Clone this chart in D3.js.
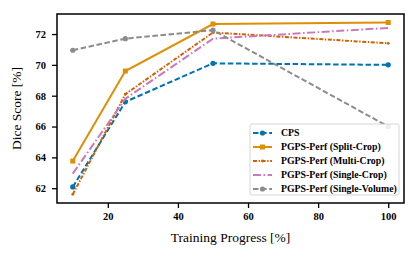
<!DOCTYPE html>
<html>
<head>
<meta charset="utf-8">
<script src="https://cdn.jsdelivr.net/npm/d3@7"></script>
<style>
  body { margin: 0; background: #fff; }
  svg { display: block; }
  text { font-family: "Liberation Serif", "DejaVu Serif", serif; }
</style>
</head>
<body>
<div id="chart"></div>
<script>
// training progress (x) and dice scores per method
const progress = [10, 25, 50, 100];
const cps = [62.08, 67.6, 70.1, 70.0];
const splitCrop = [63.76, 69.6, 72.65, 72.75];
const multiCrop = [61.6, 68.1, 72.1, 71.4];
const singleCrop = [62.95, 67.8, 71.7, 72.4];
const singleVolume = [70.95, 71.7, 72.25, 66.0];
const xTicks = [20, 40, 60, 80, 100];
const yTicks = [62, 64, 66, 68, 70, 72];

const series = [
    { name: "CPS", values: cps, color: "#0173b2", dash: "5.5,2.6", marker: "circle", size: 2.6 },
    { name: "PGPS-Perf (Split-Crop)", values: splitCrop, color: "#de8f05", dash: null, marker: "square", size: 5 },
    { name: "PGPS-Perf (Multi-Crop)", values: multiCrop, color: "#d55e00", dash: "4,1.6,1.4,1.6", marker: "circle", size: 1.4 },
    { name: "PGPS-Perf (Single-Crop)", values: singleCrop, color: "#cc78bc", dash: "8,2.5,1.6,2.5", marker: null, size: 0 },
    { name: "PGPS-Perf (Single-Volume)", values: singleVolume, color: "#8c8c8c", dash: "5.5,2.6", marker: "circle", size: 2.6 }
];

const W = 419, H = 259;
const margin = { top: 14, right: 15, bottom: 56, left: 57 };
const width = W - margin.left - margin.right;
const height = H - margin.top - margin.bottom;

const svg = d3.select("#chart").append("svg")
    .attr("width", W)
    .attr("height", H);

const g = svg.append("g")
    .attr("transform", `translate(${margin.left},${margin.top})`);

const x = d3.scaleLinear().domain([5.5, 104.5]).range([0, width]);
const y = d3.scaleLinear().domain([61.04, 73.3]).range([height, 0]);

// axes
const xAxis = g.append("g")
    .attr("transform", `translate(0,${height})`)
    .call(d3.axisBottom(x).tickValues(xTicks).tickSize(5).tickPadding(5));
const yAxis = g.append("g")
    .call(d3.axisLeft(y).tickValues(yTicks).tickSize(5).tickPadding(6));

[xAxis, yAxis].forEach(a => {
    a.select(".domain").remove();
    a.selectAll(".tick line").attr("stroke", "#000").attr("stroke-width", 1.3);
    a.selectAll(".tick text")
        .style("font-size", "10.5px")
        .style("font-weight", "bold")
        .attr("fill", "#000");
});

// frame
g.append("rect")
    .attr("width", width)
    .attr("height", height)
    .attr("fill", "none")
    .attr("stroke", "#000")
    .attr("stroke-width", 1.5);

// lines
const line = d3.line()
    .x((d, i) => x(progress[i]))
    .y(d => y(d));

function drawMarker(sel, s, cx, cy) {
    if (s.marker === "circle") {
        sel.append("circle")
            .attr("cx", cx).attr("cy", cy).attr("r", s.size)
            .attr("fill", s.color);
    } else if (s.marker === "square") {
        sel.append("rect")
            .attr("x", cx - s.size / 2).attr("y", cy - s.size / 2)
            .attr("width", s.size).attr("height", s.size)
            .attr("fill", s.color);
    }
}

series.forEach(s => {
    const sg = g.append("g");
    sg.append("path")
        .datum(s.values)
        .attr("d", line)
        .attr("fill", "none")
        .attr("stroke", s.color)
        .attr("stroke-width", 2)
        .attr("stroke-dasharray", s.dash);
    s.values.forEach((v, i) => drawMarker(sg, s, x(progress[i]), y(v)));
});

// legend
const legend = g.append("g")
    .attr("transform", `translate(${width - 154},${height - 79})`);

legend.append("rect")
    .attr("width", 149)
    .attr("height", 71)
    .attr("rx", 2)
    .attr("fill", "#fff")
    .attr("fill-opacity", 0.85)
    .attr("stroke", "#ccc")
    .attr("stroke-width", 0.8);

series.forEach((s, i) => {
    const ly = 9 + i * 14;
    const row = legend.append("g");
    row.append("line")
        .attr("x1", 3).attr("x2", 22)
        .attr("y1", ly).attr("y2", ly)
        .attr("stroke", s.color)
        .attr("stroke-width", 2)
        .attr("stroke-dasharray", s.dash);
    drawMarker(row, s, 12.5, ly);
    row.append("text")
        .attr("x", 31)
        .attr("y", ly)
        .attr("dy", "0.35em")
        .style("font-size", "9.8px")
        .style("font-weight", "bold")
        .text(s.name);
});

// axis titles
svg.append("text")
    .attr("x", margin.left + width / 2)
    .attr("y", 242)
    .attr("text-anchor", "middle")
    .style("font-size", "13.5px")
    .text("Training Progress [%]");

svg.append("text")
    .attr("transform", `translate(21,${margin.top + height / 2}) rotate(-90)`)
    .attr("text-anchor", "middle")
    .style("font-size", "13.5px")
    .text("Dice Score [%]");
</script>
</body>
</html>
